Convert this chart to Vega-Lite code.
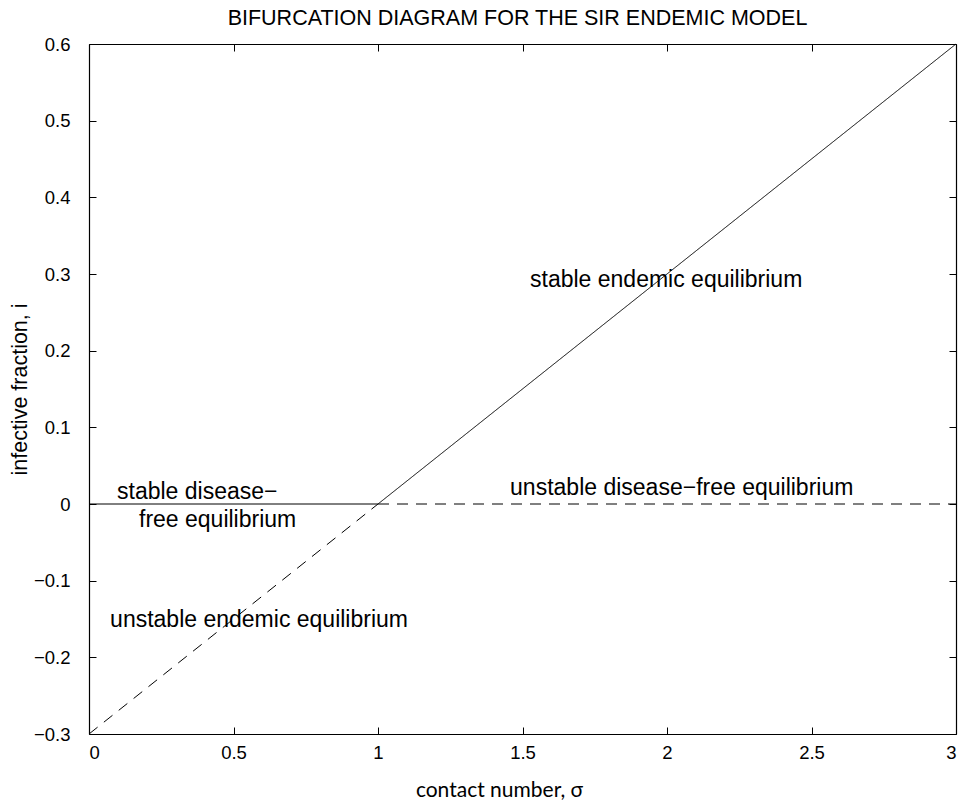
{
  "$schema": "https://vega.github.io/schema/vega-lite/v6.json",
  "width": 867,
  "height": 690,
  "autosize": {"type": "none"},
  "padding": {"left": 89, "top": 44, "right": 12, "bottom": 70},
  "background": "white",
  "config": {
    "view": {"stroke": null},
    "axis": {"grid": false, "domainColor": "black", "tickColor": "black", "labelColor": "black", "titleColor": "black", "labelFont": "Liberation Sans", "labelFontSize": 18.5, "titleFontWeight": "normal", "domainWidth": 1.2, "tickWidth": 1}
  },
  "title": {"text": "BIFURCATION DIAGRAM FOR THE SIR ENDEMIC MODEL", "font": "Liberation Sans", "fontSize": 21.5, "fontWeight": "normal", "color": "black", "anchor": "middle", "offset": 6, "dx": -5},
  "datasets": {
    "lines": [
      {"seg": "a", "style": "solid", "sigma": 0, "i": 0},
      {"seg": "a", "style": "solid", "sigma": 1, "i": 0},
      {"seg": "b", "style": "dashed", "sigma": 1, "i": 0},
      {"seg": "b", "style": "dashed", "sigma": 3, "i": 0},
      {"seg": "c", "style": "dashed", "sigma": 0, "i": -0.3},
      {"seg": "c", "style": "dashed", "sigma": 1, "i": 0},
      {"seg": "d", "style": "solid", "sigma": 1, "i": 0},
      {"seg": "d", "style": "solid", "sigma": 3, "i": 0.6}
    ],
    "labels": [
      {"label": "stable endemic equilibrium", "sigma": 1.526, "i": 0.292},
      {"label": "unstable disease−free equilibrium", "sigma": 1.457, "i": 0.021},
      {"label": "stable disease−", "sigma": 0.097, "i": 0.016},
      {"label": "free equilibrium", "sigma": 0.173, "i": -0.021},
      {"label": "unstable endemic equilibrium", "sigma": 0.073, "i": -0.151}
    ]
  },
  "resolve": {"axis": {"x": "independent", "y": "independent"}},
  "layer": [
    {
      "data": {"name": "lines"},
      "mark": {"type": "line", "color": "black", "strokeWidth": 1},
      "encoding": {
        "x": {"field": "sigma", "type": "quantitative", "scale": {"domain": [0, 3], "nice": false, "zero": false},
          "axis": {"orient": "bottom", "values": [0, 0.5, 1, 1.5, 2, 2.5, 3], "labelExpr": "format(datum.value, '~g')", "tickSize": -7, "labelPadding": 16, "title": "contact number, σ", "titleFont": "Lato", "titleFontSize": 21, "titlePadding": 18, "titleX": 410, "titleAlign": "center"}},
        "y": {"field": "i", "type": "quantitative", "scale": {"domain": [-0.3, 0.6], "nice": false, "zero": false},
          "axis": {"orient": "left", "values": [-0.3, -0.2, -0.1, 0, 0.1, 0.2, 0.3, 0.4, 0.5, 0.6], "labelExpr": "format(datum.value, '~g')", "tickSize": -7, "labelPadding": 26, "title": "infective fraction, i", "titleFont": "Liberation Sans", "titleFontSize": 21.5, "titlePadding": 2}},
        "detail": {"field": "seg"},
        "strokeDash": {"field": "style", "type": "nominal", "scale": {"domain": ["solid", "dashed"], "range": [[1, 0], [11, 8]]}, "legend": null}
      }
    },
    {
      "data": {"name": "labels"},
      "mark": {"type": "text", "align": "left", "baseline": "middle", "font": "Liberation Sans", "fontSize": 23, "color": "black"},
      "encoding": {
        "x": {"field": "sigma", "type": "quantitative", "axis": {"orient": "top", "values": [0, 0.5, 1, 1.5, 2, 2.5, 3], "labels": false, "title": null, "tickSize": -7}},
        "y": {"field": "i", "type": "quantitative", "axis": {"orient": "right", "values": [-0.3, -0.2, -0.1, 0, 0.1, 0.2, 0.3, 0.4, 0.5, 0.6], "labels": false, "title": null, "tickSize": -7}},
        "text": {"field": "label"}
      }
    }
  ]
}
